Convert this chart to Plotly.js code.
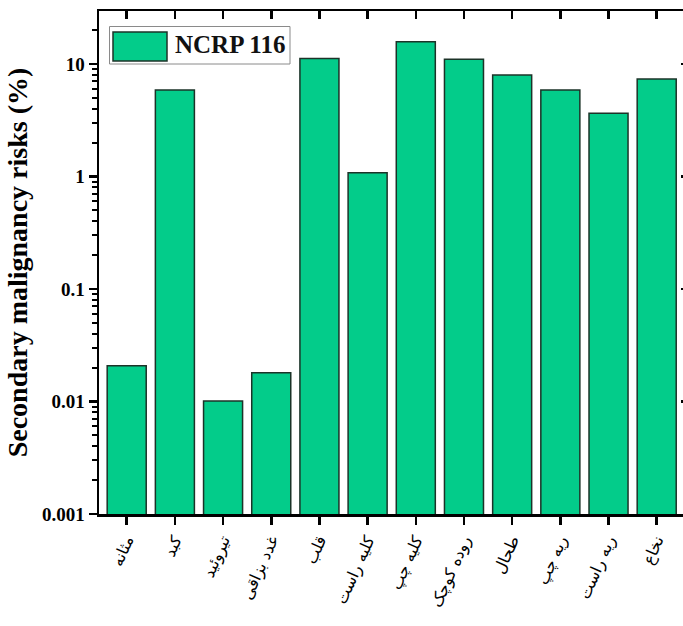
<!DOCTYPE html>
<html>
<head>
<meta charset="utf-8">
<script src="https://cdn.plot.ly/plotly-3.0.1.min.js"></script>
<style>
html,body{margin:0;padding:0;overflow:hidden;background:#fff;}
#chart{width:692px;height:626px;}
</style>
</head>
<body>
<div id="chart"></div>
<script>
const organs = ["مثانه","کبد","تیروئید","غدد بزاقی","قلب","کلیه راست","کلیه چپ","روده کوچک","طحال","ریه چپ","ریه راست","نخاع"];
const risks = [0.0208, 5.87, 0.0101, 0.018, 11.2, 1.08, 15.8, 11.0, 7.98, 5.87, 3.65, 7.36];
const seriesName = "NCRP 116";
const decades = [0.001, 0.01, 0.1, 1, 10];
const minorSteps = [2, 3, 4, 5, 6, 7, 8, 9];

const serif = "Liberation Serif, Times New Roman, serif";
const barColor = "#03cc8a";
const barLine = "#1c3328";

const M = {l: 99, r: 6, t: 11, b: 112};
const W = 692, H = 626;
const PW = W - M.l - M.r, PH = H - M.t - M.b;
// helpers converting pixel positions to paper fractions (legend decoration only)
const px = v => (v - M.l) / PW;
const py = v => (H - M.b - v) / PH;

const minorVals = [];
decades.forEach(d => minorSteps.forEach(s => minorVals.push(d * s)));

const xRange = [-0.575, 11.608];
const yRange = [-3, 1.471];

const traces = [
  {
    type: "bar",
    x: organs,
    y: risks,
    name: seriesName,
    marker: {color: barColor, line: {color: barLine, width: 1.5}},
    hoverinfo: "skip",
    showlegend: false
  },
  {
    type: "scatter",
    mode: "markers",
    x: organs,
    y: risks,
    xaxis: "x2",
    yaxis: "y2",
    marker: {opacity: 0, size: 1},
    showlegend: false,
    hoverinfo: "skip"
  }
];

const layout = {
  width: W,
  height: H,
  margin: M,
  paper_bgcolor: "#fff",
  plot_bgcolor: "#fff",
  bargap: 0.19,
  showlegend: false,
  xaxis: {
    type: "category",
    categoryorder: "array", categoryarray: organs,
    range: xRange,
    showline: true, linecolor: "#000", linewidth: 2.5,
    ticks: "outside", ticklen: 8, tickwidth: 2.5, tickcolor: "#000",
    tickangle: -66,
    tickfont: {family: "DejaVu Sans, sans-serif", size: 16, color: "#000"},
    showgrid: false, zeroline: false
  },
  xaxis2: {
    type: "category",
    categoryorder: "array", categoryarray: organs,
    overlaying: "x", side: "top", anchor: "y2",
    range: xRange,
    showline: true, linecolor: "#000", linewidth: 2.5,
    ticks: "inside", ticklen: 8, tickwidth: 2.5, tickcolor: "#000",
    showticklabels: false, showgrid: false, zeroline: false
  },
  yaxis: {
    type: "log",
    range: yRange,
    tickmode: "array", tickvals: decades, ticktext: decades.map(String),
    showline: true, linecolor: "#000", linewidth: 2.5,
    ticks: "outside", ticklen: 8, tickwidth: 2.5, tickcolor: "#000",
    minor: {tickmode: "array", tickvals: minorVals, ticks: "outside", ticklen: 5, tickwidth: 2, tickcolor: "#000", showgrid: false},
    tickfont: {family: serif, size: 19, color: "#000", weight: "bold"},
    showgrid: false, zeroline: false,
    title: {text: "<b>Secondary malignancy risks (%)</b>", font: {family: serif, size: 28, color: "#000"}, standoff: 6}
  },
  yaxis2: {
    type: "log", overlaying: "y", side: "right", anchor: "x2",
    range: yRange,
    tickmode: "array", tickvals: decades,
    showline: true, linecolor: "#000", linewidth: 2.5,
    ticks: "inside", ticklen: 5, tickwidth: 2.5, tickcolor: "#000",
    showticklabels: false, showgrid: false, zeroline: false
  },
  shapes: [
    {type: "rect", xref: "paper", yref: "paper", x0: px(109.5), x1: px(290), y0: py(64), y1: py(26.5),
     line: {color: "#8a8a8a", width: 1}, fillcolor: "#fff", layer: "above"},
    {type: "rect", xref: "paper", yref: "paper", x0: px(113), x1: px(167), y0: py(61), y1: py(32),
     line: {color: barLine, width: 1.5}, fillcolor: barColor, layer: "above"}
  ],
  annotations: [
    {xref: "paper", yref: "paper", x: px(173), y: py(45), xanchor: "left", yanchor: "middle",
     text: "<b>" + seriesName + "</b>", showarrow: false,
     font: {family: serif, size: 25, color: "#111"}}
  ]
};

Plotly.newPlot("chart", traces, layout, {displayModeBar: false, staticPlot: true});
</script>
</body>
</html>
